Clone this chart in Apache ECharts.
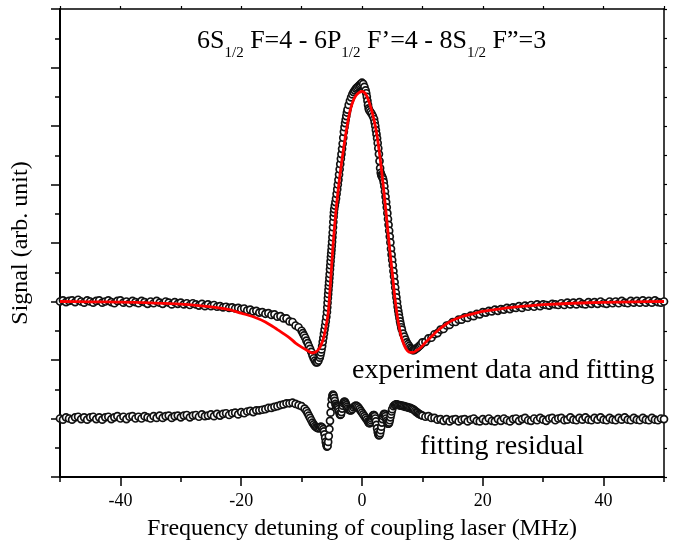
<!DOCTYPE html>
<html><head><meta charset="utf-8">
<script src="https://cdn.jsdelivr.net/npm/echarts@6/dist/echarts.min.js"></script>
<style>html,body{margin:0;padding:0;background:#fff}#c{width:674px;height:544px}</style>
</head><body><div id="c"></div>
<script>
// x tick labels (MHz)
const xTickLabels = [-40, -20, 0, 20, 40];

// experiment data (detuning MHz, signal arb.)
const expData = [
[-50,3.00],[-49.5,3.02],[-49,2.99],[-48.5,3.01],[-48,3.02],[-47.5,2.99],[-47,3.03],[-46.5,3.00],[-46,2.98],[-45.5,3.02],
[-45,3.00],[-44.5,2.98],[-44,3.01],[-43.5,3.02],[-43,2.98],[-42.5,3.00],[-42,3.02],[-41.5,2.99],[-41,2.97],[-40.5,3.01],
[-40,3.02],[-39.5,2.98],[-39,3.00],[-38.5,2.97],[-38,3.01],[-37.5,2.99],[-37,2.97],[-36.5,3.01],[-36,2.99],[-35.5,2.96],
[-35,3.00],[-34.5,2.97],[-34,3.01],[-33.5,2.98],[-33,2.96],[-32.5,3.00],[-32,2.98],[-31.5,2.95],[-31,2.99],[-30.5,2.96],
[-30,2.98],[-29.5,2.95],[-29,2.97],[-28.5,2.94],[-28,2.97],[-27.5,2.95],[-27,2.93],[-26.5,2.96],[-26,2.92],[-25.5,2.95],
[-25,2.92],[-24.5,2.94],[-24,2.91],[-23.5,2.92],[-23,2.90],[-22.5,2.91],[-22,2.89],[-21.5,2.90],[-21,2.88],[-20.5,2.89],
[-20,2.87],[-19.5,2.88],[-19,2.85],[-18.5,2.86],[-18,2.83],[-17.5,2.84],[-17,2.81],[-16.5,2.82],[-16,2.79],[-15.5,2.80],
[-15,2.77],[-14.5,2.78],[-14,2.74],[-13.5,2.75],[-13,2.71],[-12.5,2.71],[-12,2.66],[-11.5,2.65],[-11,2.59],[-10.5,2.56],
[-10,2.50],[-9.8,2.46],[-9.6,2.42],[-9.4,2.38],[-9.2,2.33],[-9.0,2.29],[-8.8,2.24],[-8.6,2.19],[-8.4,2.14],[-8.2,2.08],
[-8.0,2.03],[-7.8,1.99],[-7.6,1.96],[-7.4,1.96],[-7.2,1.99],[-7.0,2.04],[-6.9,2.08],[-6.8,2.13],[-6.7,2.18],[-6.6,2.24],
[-6.5,2.31],[-6.4,2.38],[-6.3,2.45],[-6.2,2.52],[-6.1,2.59],[-6.0,2.66],[-5.9,2.74],[-5.8,2.82],[-5.75,2.90],[-5.7,2.98],
[-5.65,3.06],[-5.6,3.13],[-5.55,3.20],[-5.5,3.27],[-5.45,3.33],[-5.4,3.40],[-5.35,3.47],[-5.3,3.55],[-5.25,3.62],[-5.2,3.69],
[-5.15,3.76],[-5.1,3.82],[-5.05,3.88],[-5.0,3.95],[-4.95,4.02],[-4.9,4.10],[-4.85,4.18],[-4.8,4.27],[-4.75,4.36],[-4.7,4.45],
[-4.65,4.52],[-4.6,4.58],[-4.5,4.64],[-4.4,4.70],[-4.3,4.76],[-4.2,4.84],[-4.1,4.92],[-4.0,5.00],[-3.9,5.08],[-3.8,5.17],
[-3.7,5.26],[-3.6,5.35],[-3.5,5.44],[-3.4,5.52],[-3.3,5.61],[-3.2,5.70],[-3.1,5.80],[-3.0,5.90],[-2.9,5.98],[-2.8,6.05],
[-2.7,6.11],[-2.6,6.17],[-2.5,6.23],[-2.4,6.28],[-2.2,6.36],[-2.0,6.43],[-1.8,6.49],[-1.6,6.54],[-1.4,6.58],[-1.2,6.61],
[-1.0,6.64],[-0.8,6.66],[-0.6,6.68],[-0.4,6.70],[-0.2,6.72],[0.0,6.74],[0.2,6.72],[0.4,6.67],[0.6,6.61],[0.7,6.56],
[0.8,6.50],[0.9,6.43],[1.0,6.36],[1.1,6.30],[1.2,6.27],[1.4,6.24],[1.6,6.21],[1.8,6.17],[2.0,6.12],[2.1,6.06],
[2.2,6.00],[2.3,5.93],[2.4,5.86],[2.5,5.79],[2.6,5.71],[2.7,5.62],[2.8,5.52],[2.9,5.40],[3.0,5.28],[3.1,5.20],
[3.2,5.16],[3.3,5.14],[3.4,5.12],[3.5,5.09],[3.6,5.04],[3.7,4.97],[3.8,4.88],[3.9,4.79],[4.0,4.70],[4.1,4.61],
[4.2,4.51],[4.3,4.41],[4.4,4.31],[4.5,4.21],[4.6,4.11],[4.7,4.01],[4.8,3.90],[4.9,3.80],[5.0,3.71],[5.1,3.62],
[5.2,3.52],[5.3,3.43],[5.4,3.33],[5.5,3.24],[5.6,3.15],[5.7,3.07],[5.8,2.99],[5.9,2.91],[6.0,2.84],[6.1,2.78],
[6.2,2.72],[6.3,2.66],[6.4,2.61],[6.5,2.56],[6.6,2.52],[6.8,2.45],[7.0,2.40],[7.2,2.35],[7.4,2.30],[7.6,2.27],
[7.8,2.24],[8.0,2.21],[8.2,2.19],[8.4,2.17],[8.6,2.17],[8.8,2.18],[9.0,2.20],[9.2,2.21],[9.4,2.23],[9.6,2.25],
[9.8,2.27],[10,2.30],[10.5,2.31],[11,2.37],[11.5,2.38],[12,2.44],[12.5,2.46],[13,2.52],[13.5,2.53],[14,2.59],
[14.5,2.60],[15,2.65],[15.5,2.65],[16,2.69],[16.5,2.69],[17,2.73],[17.5,2.72],[18,2.76],[18.5,2.75],[19,2.79],
[19.5,2.78],[20,2.82],[20.5,2.81],[21,2.84],[21.5,2.83],[22,2.86],[22.5,2.84],[23,2.87],[23.5,2.86],[24,2.89],
[24.5,2.87],[25,2.90],[25.5,2.89],[26,2.92],[26.5,2.89],[27,2.93],[27.5,2.91],[28,2.94],[28.5,2.91],[29,2.95],
[29.5,2.92],[30,2.95],[30.5,2.94],[31,2.93],[31.5,2.96],[32,2.95],[32.5,2.94],[33,2.97],[33.5,2.94],[34,2.98],
[34.5,2.95],[35,2.98],[35.5,2.95],[36,2.99],[36.5,2.96],[37,2.95],[37.5,2.99],[38,2.96],[38.5,2.99],[39,2.96],
[39.5,3.00],[40,2.97],[40.5,2.96],[41,3.00],[41.5,2.97],[42,3.00],[42.5,2.97],[43,3.01],[43.5,2.98],[44,2.97],
[44.5,3.01],[45,2.98],[45.5,3.01],[46,2.98],[46.5,3.02],[47,2.98],[47.5,3.01],[48,2.98],[48.5,3.02],[49,2.99],
[49.5,2.98],[50,3.00]
];

// fitting curve
const fitData = [
[-50,3.00],[-45,2.995],[-40,2.99],[-35,2.975],[-30,2.955],[-27,2.93],[-24,2.895],[-22,2.86],[-20,2.80],[-18,2.74],
[-16,2.65],[-14,2.52],[-13,2.45],[-12,2.38],[-11,2.29],[-10,2.22],[-9,2.16],[-8.5,2.13],[-8.2,2.12],[-7.6,2.14],
[-7.2,2.18],[-6.8,2.25],[-6.4,2.36],[-6.0,2.55],[-5.6,2.80],[-5.2,3.35],[-4.8,3.95],[-4.4,4.45],[-4.0,4.85],[-3.6,5.20],
[-3.0,5.65],[-2.5,5.98],[-2.0,6.25],[-1.5,6.42],[-1.0,6.52],[-0.5,6.57],[0,6.59],[0.5,6.56],[1.0,6.46],[1.5,6.30],
[2.0,6.10],[2.5,5.83],[3.0,5.45],[3.5,5.00],[4.0,4.50],[4.5,3.98],[5.0,3.50],[5.5,3.02],[6.0,2.65],[6.5,2.40],
[7.0,2.25],[7.5,2.16],[8.0,2.13],[8.5,2.13],[9.0,2.16],[9.6,2.20],[10.5,2.30],[11.5,2.40],[12.5,2.50],[14,2.62],
[15,2.68],[16.5,2.74],[18,2.78],[20,2.83],[22,2.86],[24,2.89],[27,2.92],[30,2.945],[35,2.97],[40,2.985],
[45,2.995],[50,3.00]
];

// fitting residual
const residualData = [
[-50,1.00],[-49.5,0.98],[-49,1.02],[-48.5,1.00],[-48,0.98],[-47.5,1.02],[-47,1.03],[-46.5,0.99],[-46,1.02],[-45.5,0.98],
[-45,1.02],[-44.5,1.03],[-44,0.99],[-43.5,1.02],[-43,0.98],[-42.5,1.02],[-42,1.03],[-41.5,0.99],[-41,1.02],[-40.5,1.04],
[-40,1.00],[-39.5,1.03],[-39,0.99],[-38.5,1.03],[-38,1.04],[-37.5,1.00],[-37,1.03],[-36.5,1.00],[-36,1.04],[-35.5,1.02],
[-35,1.00],[-34.5,1.04],[-34,1.01],[-33.5,1.05],[-33,1.01],[-32.5,1.04],[-32,1.05],[-31.5,1.01],[-31,1.04],[-30.5,1.05],
[-30,1.02],[-29.5,1.05],[-29,1.06],[-28.5,1.02],[-28,1.05],[-27.5,1.06],[-27,1.03],[-26.5,1.07],[-26,1.04],[-25.5,1.05],
[-25,1.07],[-24.5,1.04],[-24,1.08],[-23.5,1.05],[-23,1.08],[-22.5,1.09],[-22,1.06],[-21.5,1.09],[-21,1.10],[-20.5,1.07],
[-20,1.11],[-19.5,1.09],[-19,1.12],[-18.5,1.13],[-18,1.11],[-17.5,1.14],[-17,1.14],[-16.5,1.15],[-16,1.16],[-15.5,1.18],
[-15,1.18],[-14.5,1.20],[-14,1.21],[-13.5,1.23],[-13,1.24],[-12.5,1.26],[-12,1.26],[-11.5,1.27],[-11,1.25],[-10.5,1.23],
[-10,1.21],[-9.5,1.17],[-9.2,1.13],[-9.0,1.09],[-8.8,1.05],[-8.6,1.01],[-8.4,0.97],[-8.2,0.93],[-8.0,0.90],[-7.8,0.87],
[-7.6,0.85],[-7.4,0.84],[-7.2,0.83],[-7.0,0.84],[-6.8,0.86],[-6.6,0.85],[-6.4,0.82],[-6.3,0.78],[-6.2,0.73],[-6.1,0.67],
[-6.0,0.60],[-5.9,0.55],[-5.8,0.52],[-5.7,0.53],[-5.6,0.60],[-5.5,0.70],[-5.4,0.82],[-5.3,0.96],[-5.2,1.10],[-5.1,1.23],
[-5.0,1.33],[-4.9,1.39],[-4.8,1.41],[-4.7,1.39],[-4.6,1.35],[-4.5,1.30],[-4.4,1.25],[-4.3,1.22],[-4.2,1.21],[-4.1,1.21],
[-4.0,1.19],[-3.9,1.16],[-3.8,1.12],[-3.7,1.08],[-3.6,1.06],[-3.5,1.07],[-3.4,1.11],[-3.3,1.17],[-3.2,1.22],[-3.1,1.26],
[-3.0,1.28],[-2.9,1.29],[-2.8,1.28],[-2.7,1.26],[-2.6,1.23],[-2.5,1.20],[-2.4,1.17],[-2.2,1.15],[-2.0,1.14],[-1.8,1.14],
[-1.6,1.16],[-1.4,1.19],[-1.2,1.21],[-1.0,1.22],[-0.8,1.21],[-0.6,1.19],[-0.4,1.16],[-0.2,1.13],[0.0,1.10],[0.2,1.07],
[0.4,1.04],[0.6,1.01],[0.8,0.98],[1.0,0.95],[1.1,0.93],[1.2,0.92],[1.3,0.92],[1.4,0.94],[1.5,0.97],[1.6,1.00],
[1.7,1.03],[1.8,1.05],[1.9,1.06],[2.0,1.06],[2.1,1.04],[2.2,1.00],[2.3,0.95],[2.4,0.89],[2.5,0.83],[2.6,0.77],
[2.7,0.73],[2.8,0.71],[2.9,0.72],[3.0,0.75],[3.1,0.80],[3.2,0.86],[3.3,0.93],[3.4,0.99],[3.5,1.04],[3.6,1.07],
[3.7,1.08],[3.8,1.07],[3.9,1.04],[4.0,1.00],[4.1,0.96],[4.2,0.93],[4.3,0.91],[4.4,0.91],[4.5,0.93],[4.6,0.97],
[4.7,1.02],[4.8,1.07],[4.9,1.12],[5.0,1.16],[5.2,1.21],[5.4,1.23],[5.6,1.24],[5.8,1.24],[6.0,1.23],[6.2,1.23],
[6.4,1.22],[6.6,1.22],[6.8,1.21],[7.0,1.21],[7.2,1.20],[7.4,1.20],[7.6,1.19],[7.8,1.18],[8.0,1.18],[8.2,1.17],
[8.4,1.16],[8.6,1.15],[8.8,1.13],[9.0,1.11],[9.2,1.10],[9.4,1.08],[9.6,1.07],[9.8,1.06],[10,1.05],[10.5,1.03],
[11,1.04],[11.5,1.01],[12,1.01],[12.5,0.98],[13,0.99],[13.5,0.96],[14,0.99],[14.5,0.95],[15,0.98],[15.5,0.99],
[16,0.95],[16.5,0.98],[17,0.99],[17.5,0.95],[18,0.98],[18.5,1.00],[19,0.96],[19.5,0.95],[20,0.99],[20.5,0.96],
[21,1.00],[21.5,0.96],[22,0.95],[22.5,0.99],[23,0.96],[23.5,1.00],[24,0.97],[24.5,0.95],[25,0.99],[25.5,1.00],
[26,0.96],[26.5,0.99],[27,1.01],[27.5,0.97],[28,0.96],[28.5,1.00],[29,0.97],[29.5,1.01],[30,0.98],[30.5,0.96],
[31,1.00],[31.5,1.01],[32,0.97],[32.5,1.00],[33,1.01],[33.5,0.97],[34,0.98],[34.5,1.02],[35,0.98],[35.5,0.97],
[36,1.01],[36.5,0.98],[37,1.02],[37.5,0.98],[38,0.97],[38.5,1.01],[39,0.98],[39.5,1.02],[40,0.98],[40.5,0.97],
[41,1.01],[41.5,0.98],[42,0.97],[42.5,1.01],[43,0.98],[43.5,1.02],[44,0.98],[44.5,0.97],[45,1.01],[45.5,0.98],
[46,0.97],[46.5,1.01],[47,0.98],[47.5,0.97],[48,1.01],[48.5,0.98],[49,0.97],[49.5,1.00],[50,0.99]
];

const FONT = "'Liberation Serif','Times New Roman',serif";
const chart = echarts.init(document.getElementById('c'), null, {renderer: 'canvas'});

const hiddenAxisBase = {
  min: -50, max: 50, interval: 10,
  splitLine: {show: false},
  axisLabel: {show: false}
};

const dotStyle = {color: '#fff', borderColor: '#111', borderWidth: 1.7, opacity: 1};

chart.setOption({
  animation: false,
  backgroundColor: '#fff',
  grid: {left: 60, right: 10, top: 9, bottom: 67, containLabel: false, outerBoundsMode: 'none'},
  xAxis: [
    {
      type: 'value', position: 'bottom', min: -50, max: 50, interval: 10,
      name: 'Frequency detuning of coupling laser (MHz)',
      nameLocation: 'middle', nameGap: 40,
      nameTextStyle: {fontFamily: FONT, fontSize: 24, color: '#000'},
      axisLine: {show: true, onZero: false, lineStyle: {color: '#000', width: 2}},
      axisTick: {show: true, customValues: xTickLabels, length: 9, lineStyle: {color: '#000', width: 1.5}},
      axisLabel: {show: true, customValues: xTickLabels, margin: 15, fontFamily: FONT, fontSize: 18, color: '#000'},
      splitLine: {show: false}
    },
    Object.assign({}, hiddenAxisBase, {
      type: 'value', position: 'bottom',
      axisLine: {show: false},
      axisTick: {show: true, length: 5, lineStyle: {color: '#000', width: 1.5}}
    }),
    Object.assign({}, hiddenAxisBase, {
      type: 'value', position: 'top',
      axisLine: {show: true, onZero: false, lineStyle: {color: '#000', width: 1.5}},
      axisTick: {show: true, inside: false, length: 3, lineStyle: {color: '#000', width: 1.2}}
    })
  ],
  yAxis: [
    {
      type: 'value', position: 'left', min: 0, max: 8, interval: 1,
      name: 'Signal (arb. unit)', nameLocation: 'middle', nameGap: 27,
      nameTextStyle: {fontFamily: FONT, fontSize: 24, color: '#000'},
      axisLine: {show: true, onZero: false, lineStyle: {color: '#000', width: 2}},
      axisTick: {show: true, length: 9, lineStyle: {color: '#000', width: 1.5}},
      minorTick: {show: true, splitNumber: 2, length: 5, lineStyle: {color: '#000', width: 1.5}},
      axisLabel: {show: false},
      splitLine: {show: false}
    },
    {
      type: 'value', position: 'right', min: 0, max: 8, interval: 0.5,
      axisLine: {show: true, onZero: false, lineStyle: {color: '#000', width: 1.5}},
      axisTick: {show: true, length: 3, lineStyle: {color: '#000', width: 1.2}},
      axisLabel: {show: false},
      splitLine: {show: false}
    }
  ],
  graphic: [
    {
      type: 'text', left: 197, top: 28, silent: true,
      style: {
        text: '{m|6S}{s|1/2}{m| F=4 - 6P}{s|1/2}{m| F’=4 - 8S}{s|1/2}{m| F”=3}',
        rich: {
          m: {fontFamily: FONT, fontSize: 26, lineHeight: 40, fill: '#000'},
          s: {fontFamily: FONT, fontSize: 15, lineHeight: 14, verticalAlign: 'bottom', fill: '#000'}
        }
      }
    },
    {
      type: 'text', left: 352, top: 357, silent: true,
      style: {text: 'experiment data and fitting', fontFamily: FONT, fontSize: 28, fill: '#000'}
    },
    {
      type: 'text', left: 420, top: 433, silent: true,
      style: {text: 'fitting residual', fontFamily: FONT, fontSize: 28, fill: '#000'}
    }
  ],
  series: [
    {
      type: 'scatter', name: 'experiment', xAxisIndex: 0, yAxisIndex: 0,
      data: expData, symbol: 'circle', symbolSize: 7,
      itemStyle: dotStyle, emphasis: {disabled: true}, silent: true
    },
    {
      type: 'scatter', name: 'residual', xAxisIndex: 0, yAxisIndex: 0,
      data: residualData, symbol: 'circle', symbolSize: 7,
      itemStyle: dotStyle, emphasis: {disabled: true}, silent: true
    },
    {
      type: 'line', name: 'fitting', xAxisIndex: 0, yAxisIndex: 0,
      data: fitData, smooth: 0.3, showSymbol: false, symbol: 'none',
      lineStyle: {color: '#ff0000', width: 2.8},
      emphasis: {disabled: true}, silent: true
    }
  ]
});
</script>
</body></html>
